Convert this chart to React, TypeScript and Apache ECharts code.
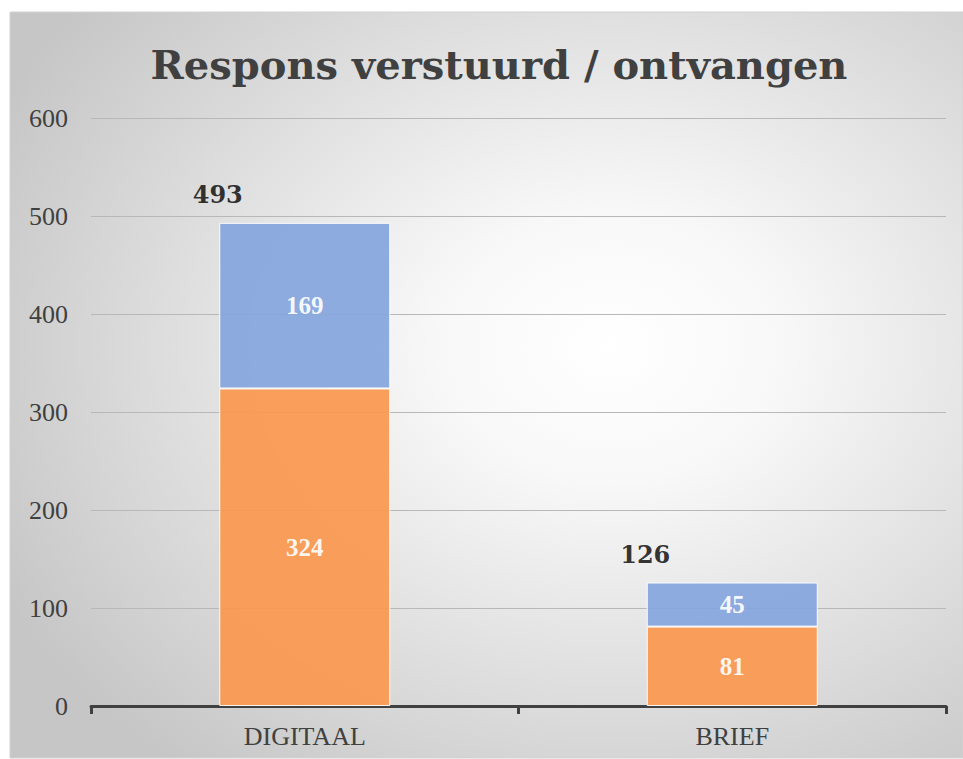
import React, { useEffect, useRef } from "react";
import * as echarts from "echarts";

const categories = ["DIGITAAL", "BRIEF"];
const ontvangen = [324, 81];
const verstuurd = [169, 45];
const totals = [493, 126];
const yTicks = { min: 0, max: 600, interval: 100 };
const titleText = "Respons verstuurd / ontvangen";

const SERIF = "Liberation Serif";
const WIDE_SERIF = "DejaVu Serif";

export default function App() {
  const ref = useRef<HTMLDivElement>(null);
  useEffect(() => {
    if (!ref.current) return;
    const chart = echarts.init(ref.current, undefined, { renderer: "svg" });
    chart.setOption({
      animation: false,
      graphic: [
        {
          type: "rect",
          z: -10,
          silent: true,
          shape: { x: 10, y: 12, width: 953, height: 746 },
          style: {
            fill: {
              type: "radial",
              x: 0.63,
              y: 0.45,
              r: 0.72,
              colorStops: [
                { offset: 0, color: "#ffffff" },
                { offset: 0.25, color: "#f8f8f8" },
                { offset: 1, color: "#c6c6c6" },
              ],
            },
            stroke: "#d2d2d2",
            lineWidth: 1,
          },
        },
      ],
      title: {
        text: titleText,
        left: 494,
        textAlign: "center",
        top: 39,
        textStyle: {
          fontFamily: WIDE_SERIF,
          fontWeight: "bold",
          fontSize: 40,
          color: "#404040",
        },
      },
      grid: { left: 91, right: 17, top: 118, bottom: 53, containLabel: false },
      xAxis: {
        type: "category",
        data: categories,
        axisLine: { lineStyle: { color: "#404040", width: 3 } },
        axisTick: { show: true, length: 8, lineStyle: { color: "#404040", width: 3 } },
        axisLabel: {
          fontFamily: SERIF,
          fontSize: 26,
          color: "#404040",
          margin: 17,
        },
      },
      yAxis: {
        type: "value",
        min: yTicks.min,
        max: yTicks.max,
        interval: yTicks.interval,
        axisLine: { show: false },
        axisTick: { show: false },
        axisLabel: {
          fontFamily: SERIF,
          fontSize: 26,
          color: "#404040",
          margin: 23,
        },
        splitLine: { lineStyle: { color: "#b8b8b8", width: 1 } },
      },
      series: [
        {
          name: "ontvangen",
          type: "bar",
          stack: "total",
          data: ontvangen,
          barWidth: "40%",
          itemStyle: { color: "#fa9850", opacity: 0.93, borderColor: "#ffffff", borderWidth: 1 },
          label: {
            show: true,
            position: "inside",
            color: "#ffffff",
            fontFamily: SERIF,
            fontWeight: "bold",
            fontSize: 25,
          },
        },
        {
          name: "verstuurd",
          type: "bar",
          stack: "total",
          data: verstuurd,
          barWidth: "40%",
          itemStyle: { color: "#86a6de", opacity: 0.93, borderColor: "#ffffff", borderWidth: 1 },
          label: {
            show: true,
            position: "inside",
            color: "#ffffff",
            fontFamily: SERIF,
            fontWeight: "bold",
            fontSize: 25,
          },
        },
        {
          name: "totaal",
          type: "scatter",
          data: totals,
          symbolSize: 0,
          z: 10,
          label: {
            show: true,
            position: "inside",
            offset: [-87, -28],
            color: "#000000",
            fontFamily: WIDE_SERIF,
            fontWeight: "bold",
            fontSize: 24,
          },
        },
      ],
    });
    return () => chart.dispose();
  }, []);
  return (
    <div
      ref={ref}
      style={{ position: "absolute", left: 0, top: 0, width: 963, height: 759 }}
    />
  );
}
